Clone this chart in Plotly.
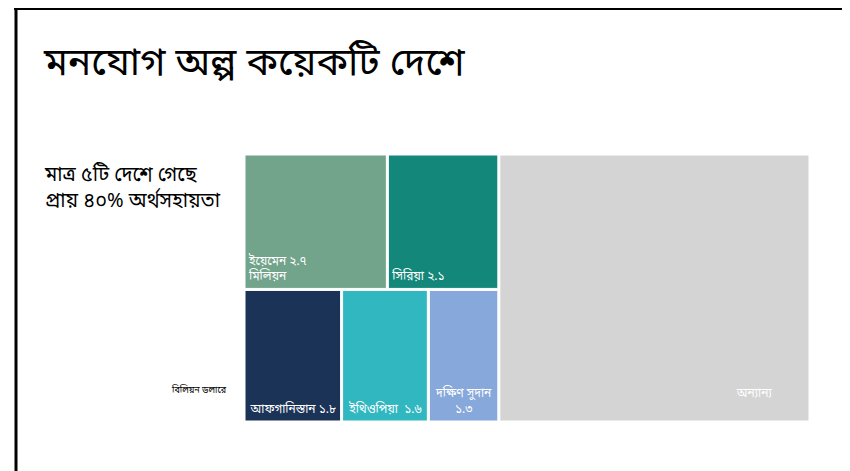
import plotly.graph_objects as go

# ---- data ----
countries = ["ইয়েমেন", "সিরিয়া", "আফগানিস্তান", "ইথিওপিয়া", "দক্ষিণ সুদান"]
values = [2.7, 2.1, 1.8, 1.6, 1.3]
value_labels = ["২.৭", "২.১", "১.৮", "১.৬", "১.৩"]
row_of = [0, 0, 1, 1, 1]
others_label = "অন্যান্য"
others_value = 11.6
colors = ["#72A38B", "#13877A", "#1B3357", "#31B7C0", "#87A8DB"]
others_color = "#D4D4D4"

title = "মনযোগ অল্প কয়েকটি দেশে"
subtitle = "মাত্র ৫টি দেশে গেছে<br>প্রায় ৪০% অর্থসহায়তা"
unit_note = "বিলিয়ন ডলারে"

cell_text = [
    f"{countries[0]} {value_labels[0]}<br>মিলিয়ন",
    f"{countries[1]} {value_labels[1]}",
    f"{countries[2]} {value_labels[2]}",
    f"{countries[3]}  {value_labels[3]}",
    f"{countries[4]}<br>{value_labels[4]}",
]
NB = "\u00a0"
others_text = others_label + NB * 11 + "<br>" + NB

FONT = "Noto Sans Bengali, Noto Serif Bengali, Lohit Bengali, FreeSerif, Vrinda, sans-serif"

W, H = 850, 471
OFF = 8  # page body margin


def px(x):
    return (x - OFF) / W


def py(y):
    return 1 - (y - OFF) / H


# ---- hierarchy ----
ids = ["grp", "row0", "row1"] + [f"c{i}" for i in range(len(countries))] + ["oth"]
parents = ["", "grp", "grp"] + [f"row{r}" for r in row_of] + [""]
vals = [0, 0, 0] + values + [others_value]
labels = ["", "", ""] + countries + [others_label]
fill = ["white", "white", "white"] + colors + [others_color]


def texts(which):
    out = ["", "", ""]
    for i in range(len(countries)):
        if which == "left" and row_of[i] == 0:
            out.append(cell_text[i])
        elif which == "center" and row_of[i] == 1:
            out.append(cell_text[i])
        else:
            out.append("")
    out.append(others_text if which == "right" else "")
    return out


dom = dict(x=[px(245), px(809)], y=[py(421), py(155)])


def tm(which, colored):
    return go.Treemap(
        ids=ids, parents=parents, values=vals, labels=labels,
        branchvalues="remainder", sort=False,
        text=texts(which), textinfo="text",
        textposition={"left": "bottom left", "center": "bottom center", "right": "bottom right"}[which],
        textfont=dict(color="white", size=12, family=FONT),
        marker=dict(
            colors=fill if colored else ["rgba(0,0,0,0)"] * len(ids),
            line=dict(color="white", width=1 if colored else 0),
            pad=dict(t=0, l=0, r=0, b=0),
        ),
        tiling=dict(packing="slice-dice", pad=2),
        pathbar=dict(visible=False),
        domain=dom,
        hoverinfo="skip",
    )


fig = go.Figure([tm("left", True), tm("center", False), tm("right", False)])

fig.update_layout(
    width=W, height=H,
    margin=dict(l=0, r=0, t=0, b=0),
    paper_bgcolor="white", plot_bgcolor="white",
    font=dict(family=FONT),
    showlegend=False,
    annotations=[
        dict(text=title, x=px(41), y=py(65), xref="paper", yref="paper",
             xanchor="left", yanchor="middle", showarrow=False,
             font=dict(size=39, color="black", family=FONT)),
        dict(text=subtitle, x=px(42), y=py(188), xref="paper", yref="paper",
             xanchor="left", yanchor="middle", align="left", showarrow=False,
             font=dict(size=20, color="black", family=FONT)),
        dict(text=unit_note, x=px(229), y=py(390), xref="paper", yref="paper",
             xanchor="right", yanchor="middle", showarrow=False,
             font=dict(size=9, color="black", family=FONT)),
    ],
    shapes=[
        dict(type="line", xref="paper", yref="paper", x0=px(14), x1=1, y0=1, y1=1,
             line=dict(color="black", width=4)),
        dict(type="line", xref="paper", yref="paper", x0=px(16), x1=px(16), y0=0, y1=1,
             line=dict(color="black", width=3)),
    ],
)

fig.write_html("out.html")
